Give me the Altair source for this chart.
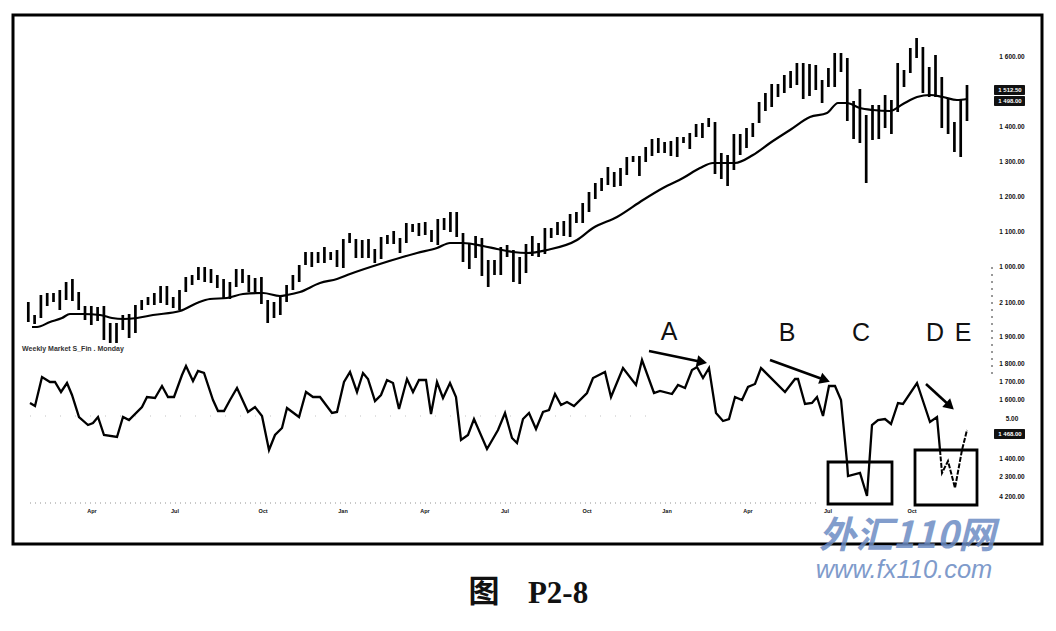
import altair as alt
import pandas as pd

# price bars: highs and lows (picture units, y grows downward), one per week
bar_top = [302,315,295,293,293,290,282,279,292,306,306,307,306,323,323,315,314,305,300,297,293,286,286,297,290,277,275,267,267,269,275,279,282,269,269,275,278,277,300,302,295,285,275,265,252,252,252,247,252,250,239,233,
           239,240,239,249,237,235,231,238,223,224,223,222,230,219,218,212,212,233,243,236,238,260,260,247,245,250,257,244,236,243,228,228,222,221,214,212,203,192,183,178,167,172,168,157,156,156,147,139,138,142,141,137,137,133,
           124,123,118,122,153,155,134,134,128,123,102,93,84,84,75,71,63,63,64,65,80,68,53,53,58,101,89,115,105,105,95,100,63,70,48,38,47,67,55,77,98,122,100,85]
bar_bot = [322,324,318,306,302,310,300,301,310,320,325,321,340,343,343,330,338,333,310,305,305,303,305,308,310,292,285,280,282,283,288,299,299,287,283,292,292,304,323,318,315,302,290,282,265,267,263,263,260,267,268,243,
           258,258,258,263,259,244,244,253,243,232,236,235,242,245,230,232,237,262,269,258,276,287,275,275,257,282,284,273,256,257,254,238,235,236,237,223,223,212,199,191,185,187,186,175,162,176,162,156,153,153,156,157,143,149,
           137,138,127,174,179,186,170,155,148,137,123,111,107,97,93,88,85,99,96,90,103,87,87,72,121,139,143,183,140,139,128,134,112,87,73,58,93,97,97,128,134,152,157,121]
bar_week = list(range(len(bar_top)))
first_bar, bar_step = 28.3, 6.3

ma_x = [32,37,50,62,70,83,100,112,123,137,153,180,197,210,227,243,263,280,287,300,320,337,350,383,417,437,450,463,483,497,513,527,547,577,593,617,643,663,683,700,713,735,753,770,790,810,827,838,847,860,873,890,903,917,930,943,957,967]
ma_y = [327,327,322,318,314,314,315,318,319,318,315,311,303,299,298,294,293,296,295,292,283,279,274,263,253,248,243,243,246,249,252,253,250,240,228,217,200,188,178,168,163,163,155,143,130,117,113,103,103,108,110,111,104,97,95,97,100,99]

osc_x = [30,35,42,50,55,61,67,72,79,88,93,98,104,117,123,129,142,147,155,162,168,174,182,186,193,198,204,213,218,224,230,237,248,255,262,269,275,282,287,299,306,313,320,332,337,344,350,357,363,368,375,381,387,393,399,407,413,419,426,431,437,443,450,456,461,468,474,487,498,505,512,517,523,529,536,543,549,555,561,567,574,587,593,605,611,623,636,642,654,660,672,678,685,692,697,703,709,716,723,729,735,742,748,755,761,785,795,798,805,812,817,823,829,835,841,847,848,860,867,872,878,885,891,898,903,917,930,937,940]
osc_y = [403,406,377,382,382,392,383,395,417,425,423,417,435,437,417,420,407,397,398,386,397,397,375,366,381,371,373,400,411,411,400,388,412,407,416,450,435,428,408,417,392,397,397,413,412,382,372,392,373,379,401,395,380,383,409,379,392,380,380,414,382,398,383,397,440,435,419,449,430,413,438,443,419,413,429,412,410,394,405,402,406,393,378,372,397,368,385,360,393,391,394,385,388,370,367,378,368,413,421,419,397,400,387,384,368,392,379,379,404,403,397,416,386,386,400,462,476,473,496,425,420,419,424,403,404,383,422,417,450]
osc_tail_x = [940,942,948,955,962,967]
osc_tail_y = [450,473,461,488,450,430]

box_left, box_right = [828,915], [892,977]
box_top, box_bottom = [462,450], [504,505]

arrow_x1, arrow_y1 = [649,770,926], [351,360,384]
arrow_x2, arrow_y2 = [702,825,950], [362,380,406]
arrow_angle = [102,110,132]

letters = ["A","B","C","D","E"]
letter_x = [669,787,861,935,963]
letter_y = [332,333,333,333,333]

month_labels = ["Apr","Jul","Oct","Jan","Apr","Jul","Oct","Jan","Apr","Jul","Oct"]
month_x = [92,175,263,343,425,505,587,667,748,828,912]
month_y = 511

price_labels = ["1 600.00","1 400.00","1 300.00","1 200.00","1 100.00","1 000.00","2 100.00","1 900.00","1 800.00","1 700.00","1 600.00","5.00","1 400.00","2 300.00","4 200.00"]
price_y = [57,127,162,197,232,267,303,337,364,382,400,419,459,477,497]

tag_labels = ["1 512.50","1 498.00","1 468.00"]
tag_y = [90,101,434]

X = alt.Scale(domain=[8,1048], range=[0,1040])
Y = alt.Scale(domain=[8,623], range=[0,615])
ax = lambda f: alt.X(f, type="quantitative", scale=X, axis=None)
ay = lambda f: alt.Y(f, type="quantitative", scale=Y, axis=None)

bars = pd.DataFrame({"x":[first_bar+bar_step*w for w in bar_week],"t":bar_top,"b":bar_bot})
ma = pd.DataFrame({"x":ma_x,"y":ma_y})
osc = pd.DataFrame({"x":osc_x,"y":osc_y})
tail = pd.DataFrame({"x":osc_tail_x,"y":osc_tail_y})
boxes = pd.DataFrame({"l":box_left,"r":box_right,"t":box_top,"b":box_bottom})
arrows = pd.DataFrame({"x":arrow_x1,"y":arrow_y1,"x2":arrow_x2,"y2":arrow_y2,"a":arrow_angle})

def text_layer(xs, ys, labels, **kw):
    d = pd.DataFrame({"x":xs,"y":ys,"s":labels})
    return alt.Chart(d).mark_text(**kw).encode(x=ax("x"), y=ay("y"), text="s:N")

layers = [
    alt.Chart(pd.DataFrame({"l":[13],"r":[1042],"t":[15],"b":[544]})).mark_rect(fill=None, stroke="#000000", strokeWidth=3).encode(x=ax("l"), x2="r", y=ay("t"), y2="b"),
    alt.Chart(pd.DataFrame({"x":[30],"x2":[820],"y":[503]})).mark_rule(color="#777777", strokeWidth=0.8, strokeDash=[1,4]).encode(x=ax("x"), x2="x2", y=ay("y")),
    alt.Chart(pd.DataFrame({"x":[30],"x2":[660],"y":[416]})).mark_rule(color="#aaaaaa", strokeWidth=0.7, strokeDash=[1,14]).encode(x=ax("x"), x2="x2", y=ay("y")),
    alt.Chart(pd.DataFrame({"x":[992],"y":[267],"y2":[377]})).mark_rule(color="#333333", strokeWidth=1, strokeDash=[2,5]).encode(x=ax("x"), y=ay("y"), y2="y2"),
    alt.Chart(bars).mark_rule(color="#000000", strokeWidth=2.7).encode(x=ax("x"), y=ay("t"), y2="b"),
    alt.Chart(ma).mark_line(color="#000000", strokeWidth=2.2, interpolate="monotone").encode(x=ax("x"), y=ay("y"), order="x:Q"),
    alt.Chart(osc).mark_line(color="#000000", strokeWidth=2.3).encode(x=ax("x"), y=ay("y"), order="x:Q"),
    alt.Chart(tail).mark_line(color="#000000", strokeWidth=2, strokeDash=[5,1.5]).encode(x=ax("x"), y=ay("y"), order="x:Q"),
    alt.Chart(boxes).mark_rect(fill=None, stroke="#000000", strokeWidth=2.8).encode(x=ax("l"), x2="r", y=ay("t"), y2="b"),
    alt.Chart(arrows).mark_rule(color="#000000", strokeWidth=2.6).encode(x=ax("x"), x2="x2", y=ay("y"), y2="y2"),
    alt.Chart(arrows).mark_point(shape="triangle-up", filled=True, color="#000000", opacity=1, size=140).encode(x=ax("x2"), y=ay("y2"), angle=alt.Angle("a:Q", scale=None)),
    text_layer(letter_x, letter_y, letters, font="Liberation Sans", fontSize=25, color="#111111"),
    text_layer(month_x, [month_y]*len(month_x), month_labels, font="Liberation Sans", fontSize=5.5, fontWeight="bold", color="#111111"),
    text_layer([73], [349], ["Weekly Market S_Fin . Monday"], font="Liberation Sans", fontSize=7, fontWeight="bold", color="#333333"),
    text_layer([1012]*len(price_y), price_y, price_labels, font="Liberation Sans", fontSize=6.5, fontWeight="bold", color="#111111"),
    alt.Chart(pd.DataFrame({"l":[994]*3,"r":[1025]*3,"t":[y-5 for y in tag_y],"b":[y+5 for y in tag_y]})).mark_rect(color="#111111", cornerRadius=1).encode(x=ax("l"), x2="r", y=ay("t"), y2="b"),
    text_layer([1010]*3, tag_y, tag_labels, font="Liberation Sans", fontSize=6, fontWeight="bold", color="#ffffff"),
    text_layer([484], [593], ["图"], font="Noto Sans CJK SC", fontSize=31, fontWeight="bold", color="#111111"),
    text_layer([558], [594], ["P2-8"], font="Liberation Serif", fontSize=31, fontWeight="bold", color="#111111"),
    text_layer([907], [537], ["外汇110网"], font="Noto Sans CJK SC", fontSize=37, fontWeight="bold", fontStyle="italic", color="#6d8cc4", opacity=0.85),
    text_layer([904], [570], ["www.fx110.com"], font="Liberation Sans", fontSize=25.5, fontStyle="italic", color="#7f9bcb"),
]

chart = alt.layer(*layers).properties(
    width=1040, height=615, padding=0,
    autosize=alt.AutoSizeParams(type="none"),
).configure_view(stroke=None)

chart.save("out.html", embed_options={"renderer": "svg", "actions": False})
